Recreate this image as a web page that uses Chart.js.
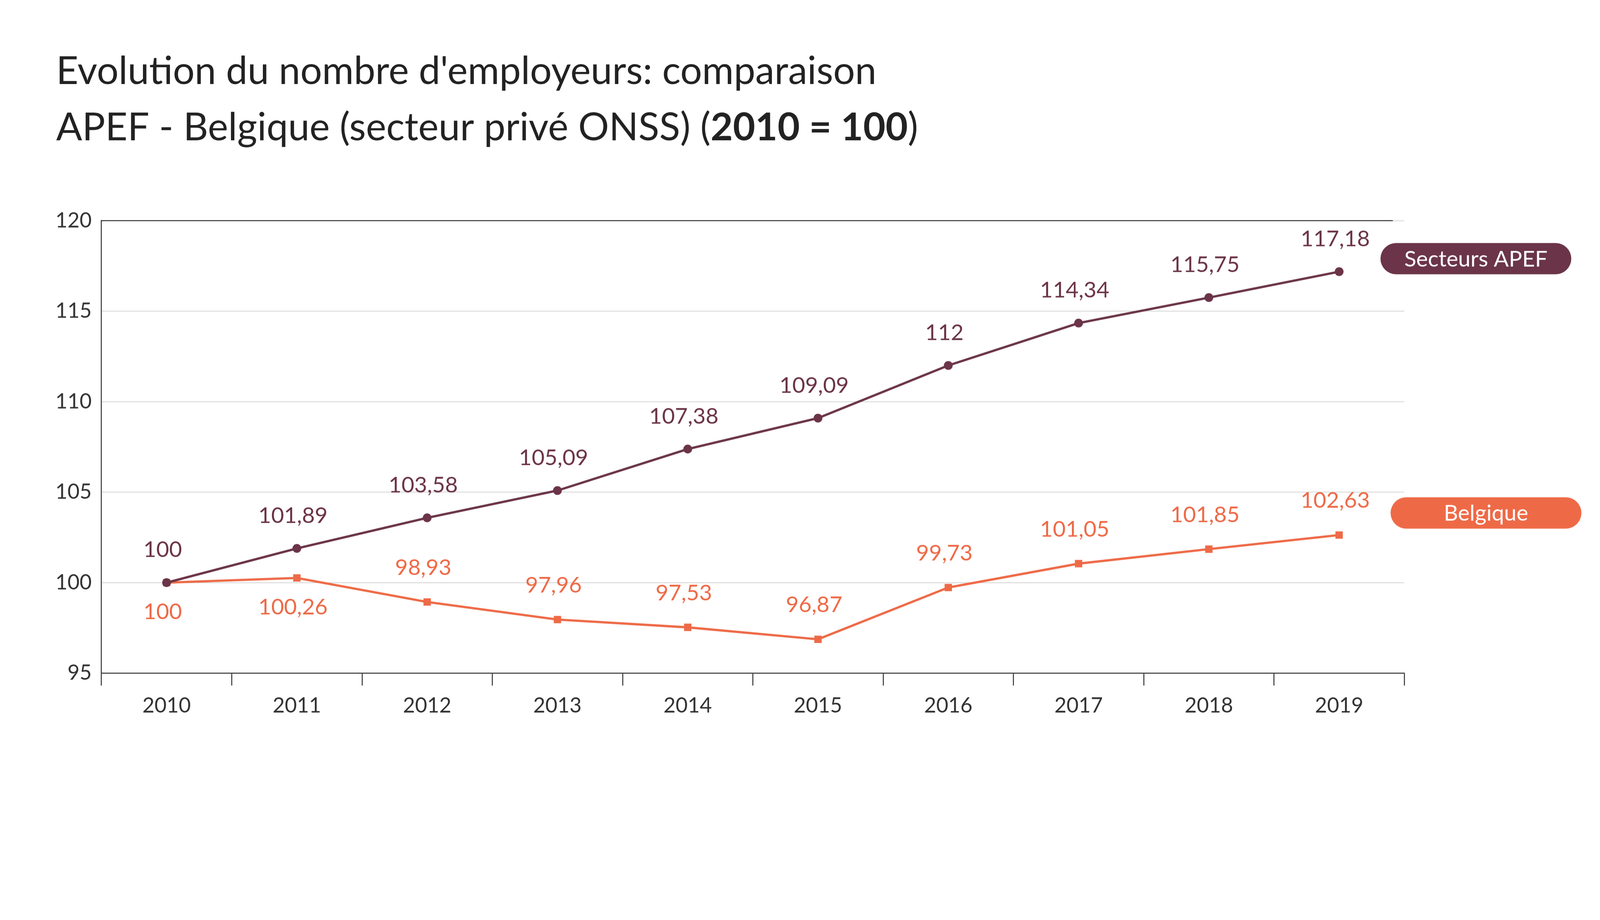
<!DOCTYPE html>
<html><head><meta charset="utf-8">
<script src="https://cdn.jsdelivr.net/npm/chart.js@4/dist/chart.umd.min.js"></script>
<style>html,body{margin:0;background:#fff;overflow:hidden}canvas{display:block}</style>
</head><body>
<canvas id="c"></canvas>
<script>
const years = ["2010","2011","2012","2013","2014","2015","2016","2017","2018","2019"];
const apef = [100, 101.89, 103.58, 105.09, 107.38, 109.09, 112, 114.34, 115.75, 117.18];
const belgique = [100, 100.26, 98.93, 97.96, 97.53, 96.87, 99.73, 101.05, 101.85, 102.63];
const yTicks = [95, 100, 105, 110, 115, 120];

const APEF_COL = '#6b3448';
const BE_COL = '#ee6a47';
const FONT = 'Lato';

// everything is laid out for 4905 wide, scaled to the real window
const S = window.innerWidth / 4905;
const canvas = document.getElementById('c');
canvas.style.width = window.innerWidth + 'px';
canvas.style.height = (2355 * S) + 'px';
canvas.width = window.innerWidth;
canvas.height = 2355 * S;

const fmt = v => String(v).replace('.', ',');

const extras = {
  id: 'extras',
  afterDraw(chart) {
    const c = chart.ctx, a = chart.chartArea;
    const y = chart.scales.y;
    c.save();
    c.fillStyle = '#222';
    c.textBaseline = 'alphabetic';
    c.textAlign = 'left';
    const tf = `400 ${118 * S}px ${FONT}`, tb = `bold ${118 * S}px ${FONT}`;
    c.font = tf;
    c.fillText("Evolution du nombre d'employeurs: comparaison", 172 * S, 258 * S);
    let t1 = 'APEF - Belgique (secteur privé ONSS) (';
    c.fillText(t1, 172 * S, 430 * S);
    let w = c.measureText(t1).width;
    c.font = tb;
    c.fillText('2010 = 100', 172 * S + w, 430 * S);
    w += c.measureText('2010 = 100').width;
    c.font = tf;
    c.fillText(')', 172 * S + w, 430 * S);

    c.strokeStyle = '#333'; c.lineWidth = 3 * S;
    c.beginPath(); c.moveTo(a.left, a.top); c.lineTo(a.right - 35 * S, a.top); c.stroke();

    c.font = `400 ${68 * S}px ${FONT}`;
    c.textAlign = 'center'; c.textBaseline = 'middle';
    chart.getDatasetMeta(0).data.forEach((p, i) => {
      c.fillStyle = APEF_COL;
      c.fillText(fmt(apef[i]), p.x - 12 * S, p.y - 100 * S);
    });
    chart.getDatasetMeta(1).data.forEach((p, i) => {
      c.fillStyle = BE_COL;
      const below = i < 2;
      c.fillText(fmt(belgique[i]), p.x - 12 * S, below ? p.y + 90 * S : p.y - 105 * S);
    });

    const pill = (label, col, val, px) => {
      const cy = y.getPixelForValue(val), h = 96 * S, wd = 585 * S;
      c.fillStyle = col;
      c.beginPath(); c.roundRect(px * S, cy - h / 2, wd, h, h / 2); c.fill();
      c.fillStyle = '#fff'; c.font = `400 ${68 * S}px ${FONT}`;
      c.fillText(label, px * S + wd / 2, cy + 2 * S);
    };
    pill('Secteurs APEF', APEF_COL, 117.9, 4232);
    pill('Belgique', BE_COL, 103.85, 4263);
    c.restore();
  }
};

new Chart(canvas, {
  type: 'line',
  data: {
    labels: years,
    datasets: [
      { data: apef, borderColor: APEF_COL, backgroundColor: APEF_COL, borderWidth: 7 * S,
        pointStyle: 'circle', pointRadius: 10 * S, tension: 0 },
      { data: belgique, borderColor: BE_COL, backgroundColor: BE_COL, borderWidth: 7 * S,
        pointStyle: 'rect', pointRadius: 11 * S, tension: 0 }
    ]
  },
  options: {
    responsive: false, animation: false,
    layout: { padding: { top: 676 * S, right: 600 * S, left: 0, bottom: 0 } },
    plugins: { legend: { display: false }, tooltip: { enabled: false } },
    scales: {
      x: {
        offset: true,
        afterFit: s => { s.height = 292 * S; },
        grid: { offset: true, drawOnChartArea: false, color: '#333', lineWidth: 3 * S, tickLength: 38 * S, tickColor: '#333' },
        border: { color: '#333', width: 3 * S },
        ticks: { color: '#333', font: { family: FONT, size: 64 * S, weight: 400 }, padding: 24 * S }
      },
      y: {
        min: 95, max: 120,
        afterFit: s => { s.width = 311 * S; },
        afterBuildTicks: s => { s.ticks = yTicks.map(v => ({ value: v })); },
        grid: { color: '#cfcfcf', lineWidth: 2 * S, drawTicks: false },
        border: { color: '#333', width: 3 * S },
        ticks: { color: '#333', font: { family: FONT, size: 64 * S, weight: 400 }, padding: 30 * S }
      }
    }
  },
  plugins: [extras]
});
</script>
</body></html>
